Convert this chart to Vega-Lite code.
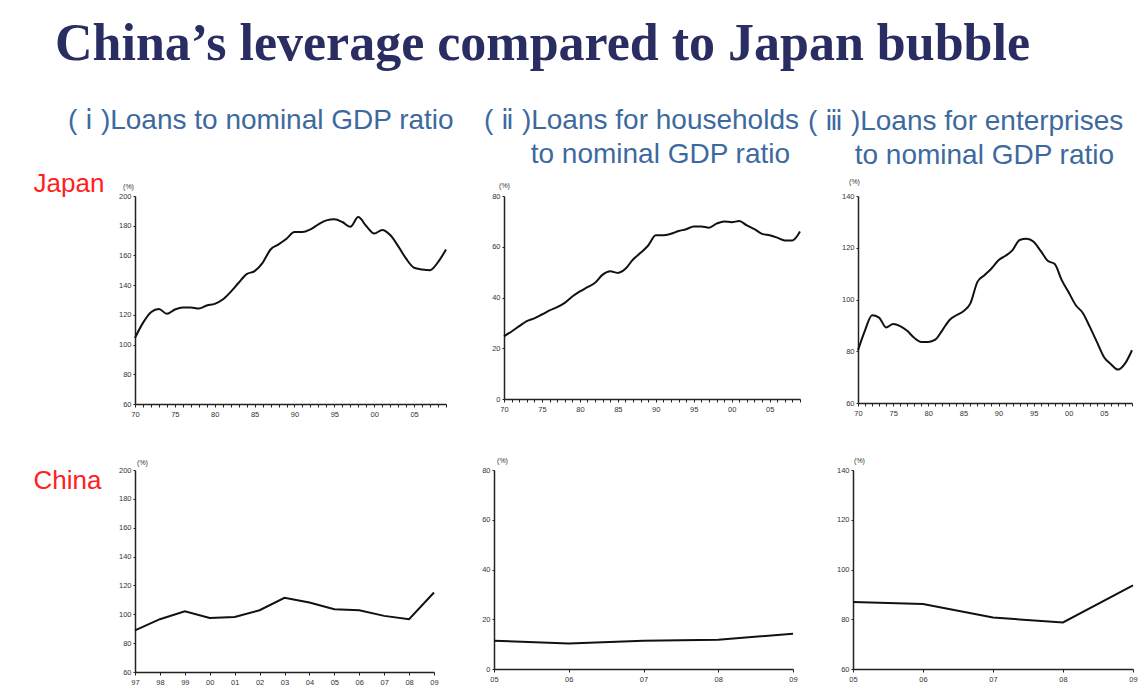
{
  "$schema": "https://vega.github.io/schema/vega-lite/v6.json",
  "background": "white",
  "padding": {"left": 33, "top": 18, "right": 5, "bottom": 5},
  "title": {
    "text": "China’s leverage compared to Japan bubble",
    "font": "Liberation Serif",
    "fontSize": 52,
    "fontWeight": "bold",
    "color": "#2a2d62",
    "anchor": "start",
    "frame": "group",
    "dx": -80,
    "offset": 36
  },
  "datasets": {
    "jp_total": [
      {"year": 1970, "value": 104.5}, {"year": 1971, "value": 114.6}, {"year": 1972, "value": 121.8}, {"year": 1973, "value": 124},
      {"year": 1974, "value": 120.7}, {"year": 1975, "value": 123.6}, {"year": 1976, "value": 125}, {"year": 1977, "value": 125},
      {"year": 1978, "value": 124.3}, {"year": 1979, "value": 126.3}, {"year": 1980, "value": 127.4}, {"year": 1981, "value": 130.3},
      {"year": 1982, "value": 135.5}, {"year": 1983, "value": 141.6}, {"year": 1984, "value": 147.4}, {"year": 1985, "value": 149.4},
      {"year": 1986, "value": 155}, {"year": 1987, "value": 164}, {"year": 1988, "value": 167.4}, {"year": 1989, "value": 171.2},
      {"year": 1990, "value": 175.7}, {"year": 1991, "value": 175.7}, {"year": 1992, "value": 177.5}, {"year": 1993, "value": 180.9},
      {"year": 1994, "value": 183.6}, {"year": 1995, "value": 184.3}, {"year": 1996, "value": 182.5}, {"year": 1997, "value": 179.3},
      {"year": 1998, "value": 185.8}, {"year": 1999, "value": 179.8}, {"year": 2000, "value": 174.8}, {"year": 2001, "value": 177.1},
      {"year": 2002, "value": 173.7}, {"year": 2003, "value": 166.3}, {"year": 2004, "value": 157.8}, {"year": 2005, "value": 151.7},
      {"year": 2006, "value": 150.6}, {"year": 2007, "value": 150.1}, {"year": 2008, "value": 155.5}, {"year": 2009, "value": 164}
    ],
    "jp_hh": [
      {"year": 1970, "value": 24.7}, {"year": 1971, "value": 26.6}, {"year": 1972, "value": 28.7}, {"year": 1973, "value": 30.7},
      {"year": 1974, "value": 31.8}, {"year": 1975, "value": 33.3}, {"year": 1976, "value": 34.9}, {"year": 1977, "value": 36.2},
      {"year": 1978, "value": 37.9}, {"year": 1979, "value": 40.4}, {"year": 1980, "value": 42.4}, {"year": 1981, "value": 44.1},
      {"year": 1982, "value": 45.8}, {"year": 1983, "value": 49}, {"year": 1984, "value": 50.3}, {"year": 1985, "value": 49.7},
      {"year": 1986, "value": 51.3}, {"year": 1987, "value": 55}, {"year": 1988, "value": 57.6}, {"year": 1989, "value": 60.5},
      {"year": 1990, "value": 64.5}, {"year": 1991, "value": 64.5}, {"year": 1992, "value": 65.1}, {"year": 1993, "value": 66.2},
      {"year": 1994, "value": 66.9}, {"year": 1995, "value": 68}, {"year": 1996, "value": 68}, {"year": 1997, "value": 67.5},
      {"year": 1998, "value": 69.1}, {"year": 1999, "value": 70}, {"year": 2000, "value": 69.7}, {"year": 2001, "value": 70.1},
      {"year": 2002, "value": 68.4}, {"year": 2003, "value": 66.9}, {"year": 2004, "value": 65.1}, {"year": 2005, "value": 64.5},
      {"year": 2006, "value": 63.6}, {"year": 2007, "value": 62.5}, {"year": 2008, "value": 62.5}, {"year": 2009, "value": 66}
    ],
    "jp_ent": [
      {"year": 1970, "value": 80.4}, {"year": 1971, "value": 88.1}, {"year": 1972, "value": 93.9}, {"year": 1973, "value": 93},
      {"year": 1974, "value": 89.2}, {"year": 1975, "value": 90.5}, {"year": 1976, "value": 89.7}, {"year": 1977, "value": 87.9},
      {"year": 1978, "value": 85.2}, {"year": 1979, "value": 83.6}, {"year": 1980, "value": 83.6}, {"year": 1981, "value": 84.5},
      {"year": 1982, "value": 88.1}, {"year": 1983, "value": 92}, {"year": 1984, "value": 93.9}, {"year": 1985, "value": 95.5},
      {"year": 1986, "value": 98.5}, {"year": 1987, "value": 106.8}, {"year": 1988, "value": 109.4}, {"year": 1989, "value": 112},
      {"year": 1990, "value": 115.2}, {"year": 1991, "value": 116.9}, {"year": 1992, "value": 119.1}, {"year": 1993, "value": 123},
      {"year": 1994, "value": 123.5}, {"year": 1995, "value": 122.3}, {"year": 1996, "value": 118.8}, {"year": 1997, "value": 115},
      {"year": 1998, "value": 113.7}, {"year": 1999, "value": 107.5}, {"year": 2000, "value": 102.7}, {"year": 2001, "value": 97.8},
      {"year": 2002, "value": 94.8}, {"year": 2003, "value": 89.4}, {"year": 2004, "value": 83.6}, {"year": 2005, "value": 77.8},
      {"year": 2006, "value": 75}, {"year": 2007, "value": 72.9}, {"year": 2008, "value": 75.2}, {"year": 2009, "value": 80.4}
    ],
    "cn_total": [
      {"year": 1997, "value": 88.9}, {"year": 1998, "value": 96.6}, {"year": 1999, "value": 102.1}, {"year": 2000, "value": 97.5},
      {"year": 2001, "value": 98.2}, {"year": 2002, "value": 102.8}, {"year": 2003, "value": 111.4}, {"year": 2004, "value": 108.1},
      {"year": 2005, "value": 103.5}, {"year": 2006, "value": 102.8}, {"year": 2007, "value": 98.9}, {"year": 2008, "value": 96.6},
      {"year": 2009, "value": 115.1}
    ],
    "cn_hh": [
      {"year": 2005, "value": 11.4}, {"year": 2006, "value": 10.3}, {"year": 2007, "value": 11.4}, {"year": 2008, "value": 11.8}, {"year": 2009, "value": 14.2}
    ],
    "cn_ent": [
      {"year": 2005, "value": 86.9}, {"year": 2006, "value": 86.1}, {"year": 2007, "value": 80.7}, {"year": 2008, "value": 78.7}, {"year": 2009, "value": 93.6}
    ]
  },
  "vconcat": [
    {
      "hconcat": [
        {
          "width": 311, "height": 208,
          "title": {"text": ["(\u00a0ⅰ\u00a0)Loans to nominal GDP ratio", "\u00a0"], "anchor": "start", "frame": "group", "dx": -67, "offset": 1},
          "data": {"name": "jp_total"},
          "mark": {"type": "line", "interpolate": "monotone", "color": "#111", "strokeWidth": 2},
          "encoding": {
            "x": {"field": "year", "type": "quantitative", "scale": {"domain": [1970, 2009], "nice": false, "zero": false},
                  "axis": {"values": [1970,1971,1972,1973,1974,1975,1976,1977,1978,1979,1980,1981,1982,1983,1984,1985,1986,1987,1988,1989,1990,1991,1992,1993,1994,1995,1996,1997,1998,1999,2000,2001,2002,2003,2004,2005,2006,2007,2008,2009],
                           "labelExpr": "datum.value % 5 == 0 && datum.value < 2009 ? slice(toString(datum.value), 2) : ''",
                           "title": "Japan", "titleX": -102, "titleY": -213, "titleAlign": "left", "titleBaseline": "alphabetic", "titleColor": "#ff2020", "titleFontSize": 26, "titleFontWeight": "normal", "titleFont": "Liberation Sans"}},
            "y": {"field": "value", "type": "quantitative", "scale": {"domain": [60, 200], "nice": false, "zero": false},
                  "axis": {"values": [60,80,100,120,140,160,180,200], "title": "(%)", "titleX": -7, "titleY": -10}}
          }
        },
        {
          "width": 296, "height": 203,
          "title": {"text": ["(\u00a0ⅱ\u00a0)Loans for households", "\u200b\u00a0\u00a0\u00a0\u00a0\u00a0\u00a0to nominal GDP ratio"], "anchor": "start", "frame": "group", "dx": -20, "offset": 12},
          "data": {"name": "jp_hh"},
          "mark": {"type": "line", "interpolate": "monotone", "color": "#111", "strokeWidth": 2},
          "encoding": {
            "x": {"field": "year", "type": "quantitative", "scale": {"domain": [1970, 2009], "nice": false, "zero": false},
                  "axis": {"values": [1970,1971,1972,1973,1974,1975,1976,1977,1978,1979,1980,1981,1982,1983,1984,1985,1986,1987,1988,1989,1990,1991,1992,1993,1994,1995,1996,1997,1998,1999,2000,2001,2002,2003,2004,2005,2006,2007,2008,2009],
                           "labelExpr": "datum.value % 5 == 0 && datum.value < 2009 ? slice(toString(datum.value), 2) : ''", "title": null}},
            "y": {"field": "value", "type": "quantitative", "scale": {"domain": [0, 80], "nice": false},
                  "axis": {"values": [0,20,40,60,80], "title": "(%)", "titleX": 0, "titleY": -11}}
          }
        },
        {
          "width": 274, "height": 207,
          "title": {"text": ["(\u00a0ⅲ\u00a0)Loans for enterprises", "\u200b\u00a0\u00a0\u00a0\u00a0\u00a0\u00a0to nominal GDP ratio"], "anchor": "start", "frame": "group", "dx": -50, "offset": 7},
          "data": {"name": "jp_ent"},
          "mark": {"type": "line", "interpolate": "monotone", "color": "#111", "strokeWidth": 2},
          "encoding": {
            "x": {"field": "year", "type": "quantitative", "scale": {"domain": [1970, 2009], "nice": false, "zero": false},
                  "axis": {"values": [1970,1971,1972,1973,1974,1975,1976,1977,1978,1979,1980,1981,1982,1983,1984,1985,1986,1987,1988,1989,1990,1991,1992,1993,1994,1995,1996,1997,1998,1999,2000,2001,2002,2003,2004,2005,2006,2007,2008,2009],
                           "labelExpr": "datum.value % 5 == 0 && datum.value < 2009 ? slice(toString(datum.value), 2) : ''", "title": null}},
            "y": {"field": "value", "type": "quantitative", "scale": {"domain": [60, 140], "nice": false, "zero": false},
                  "axis": {"values": [60,80,100,120,140], "title": "(%)", "titleX": -4, "titleY": -15}}
          }
        }
      ],
      "spacing": 58,
      "bounds": "flush"
    },
    {
      "hconcat": [
        {
          "width": 299, "height": 202,
          "data": {"name": "cn_total"},
          "mark": {"type": "line", "color": "#111", "strokeWidth": 2},
          "encoding": {
            "x": {"field": "year", "type": "quantitative", "scale": {"domain": [1997, 2009], "nice": false, "zero": false},
                  "axis": {"values": [1997,1998,1999,2000,2001,2002,2003,2004,2005,2006,2007,2008,2009],
                           "labelExpr": "slice(toString(datum.value), 2)",
                           "title": "China", "titleX": -102, "titleY": -184, "titleAlign": "left", "titleBaseline": "alphabetic", "titleColor": "#ff2020", "titleFontSize": 26, "titleFontWeight": "normal", "titleFont": "Liberation Sans"}},
            "y": {"field": "value", "type": "quantitative", "scale": {"domain": [60, 200], "nice": false, "zero": false},
                  "axis": {"values": [60,80,100,120,140,160,180,200], "title": "(%)", "titleX": 7, "titleY": -8}}
          }
        },
        {
          "width": 299, "height": 199,
          "data": {"name": "cn_hh"},
          "mark": {"type": "line", "color": "#111", "strokeWidth": 2},
          "encoding": {
            "x": {"field": "year", "type": "quantitative", "scale": {"domain": [2005, 2009], "nice": false, "zero": false},
                  "axis": {"values": [2005,2006,2007,2008,2009], "labelExpr": "slice(toString(datum.value), 2)", "title": null}},
            "y": {"field": "value", "type": "quantitative", "scale": {"domain": [0, 80], "nice": false},
                  "axis": {"values": [0,20,40,60,80], "title": "(%)", "titleX": 8, "titleY": -10}}
          }
        },
        {
          "width": 280, "height": 199,
          "data": {"name": "cn_ent"},
          "mark": {"type": "line", "color": "#111", "strokeWidth": 2},
          "encoding": {
            "x": {"field": "year", "type": "quantitative", "scale": {"domain": [2005, 2009], "nice": false, "zero": false},
                  "axis": {"values": [2005,2006,2007,2008,2009], "labelExpr": "slice(toString(datum.value), 2)", "title": null}},
            "y": {"field": "value", "type": "quantitative", "scale": {"domain": [60, 140], "nice": false, "zero": false},
                  "axis": {"values": [60,80,100,120,140], "title": "(%)", "titleX": 6, "titleY": -10}}
          }
        }
      ],
      "spacing": 60,
      "bounds": "flush"
    }
  ],
  "spacing": 38,
  "config": {
    "view": {"stroke": null},
    "font": "Liberation Sans",
    "title": {"font": "Liberation Sans", "fontSize": 28, "fontWeight": "normal", "color": "#3d6a9e", "lineHeight": 34, "align": "left"},
    "axis": {
      "grid": false,
      "domainColor": "#222",
      "domainWidth": 1.5,
      "tickColor": "#222",
      "tickSize": 3,
      "labelFont": "Liberation Sans",
      "labelFontSize": 7.5,
      "labelColor": "#333",
      "labelOverlap": false,
      "labelPadding": 3,
      "labelFlush": false,
      "titleFont": "Liberation Sans",
      "titleFontSize": 7,
      "titleFontWeight": "normal",
      "titleColor": "#333",
      "titleAngle": 0,
      "titleAlign": "center",
      "titleBaseline": "middle"
    },
    "axisY": {"tickSize": 2, "labelPadding": 2}
  }
}
